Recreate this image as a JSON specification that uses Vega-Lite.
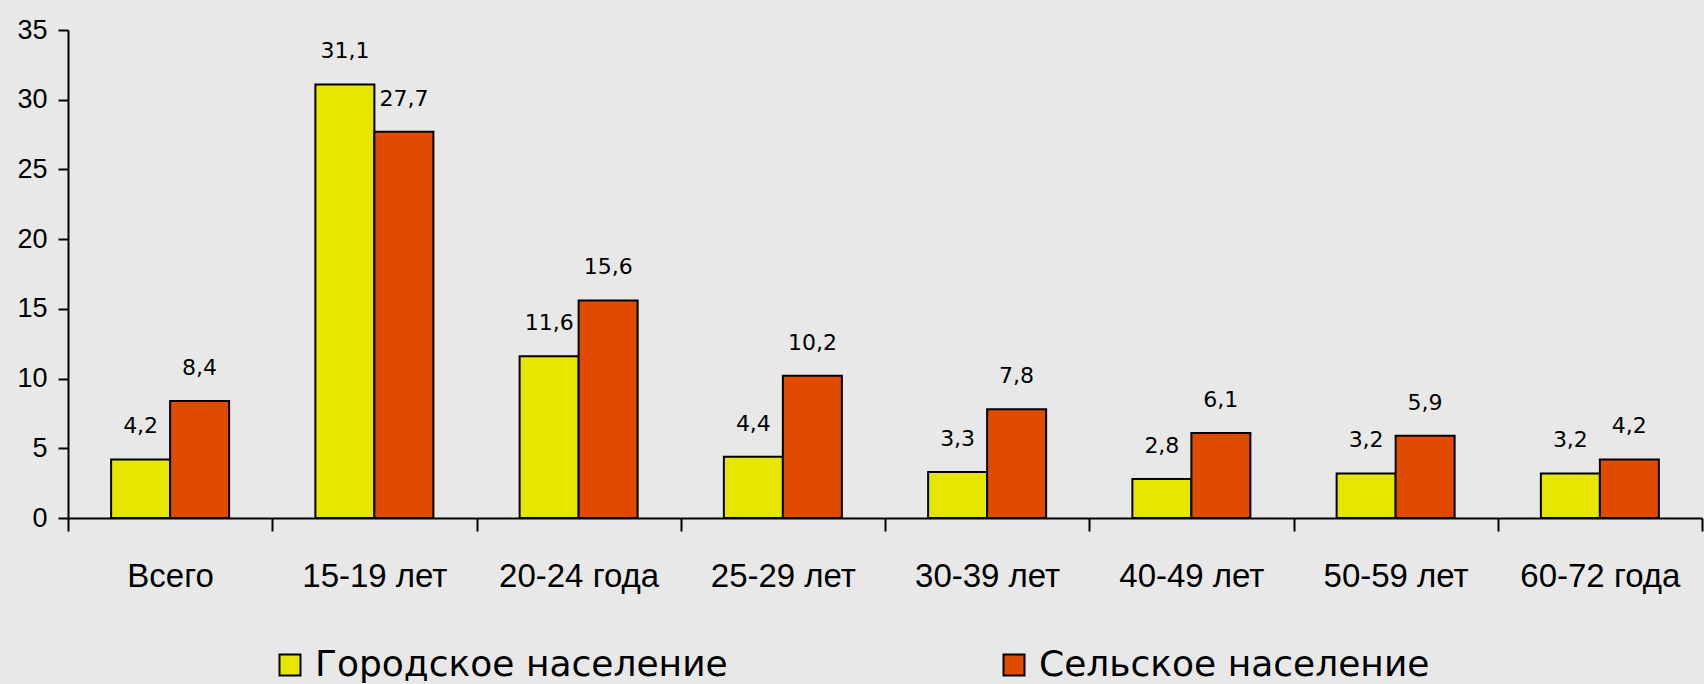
{
  "$schema": "https://vega.github.io/schema/vega-lite/v6.json",
  "autosize": "none",
  "padding": {"left": 68, "top": 30, "right": 2, "bottom": 166},
  "width": 1634,
  "height": 488,
  "background": "#E8E8E8",
  "data": {
    "values": [
      {"group": "Всего", "pop": "Городское население", "value": 4.2},
      {"group": "Всего", "pop": "Сельское население", "value": 8.4},
      {"group": "15-19 лет", "pop": "Городское население", "value": 31.1},
      {"group": "15-19 лет", "pop": "Сельское население", "value": 27.7},
      {"group": "20-24 года", "pop": "Городское население", "value": 11.6},
      {"group": "20-24 года", "pop": "Сельское население", "value": 15.6},
      {"group": "25-29 лет", "pop": "Городское население", "value": 4.4},
      {"group": "25-29 лет", "pop": "Сельское население", "value": 10.2},
      {"group": "30-39 лет", "pop": "Городское население", "value": 3.3},
      {"group": "30-39 лет", "pop": "Сельское население", "value": 7.8},
      {"group": "40-49 лет", "pop": "Городское население", "value": 2.8},
      {"group": "40-49 лет", "pop": "Сельское население", "value": 6.1},
      {"group": "50-59 лет", "pop": "Городское население", "value": 3.2},
      {"group": "50-59 лет", "pop": "Сельское население", "value": 5.9},
      {"group": "60-72 года", "pop": "Городское население", "value": 3.2},
      {"group": "60-72 года", "pop": "Сельское население", "value": 4.2}
    ]
  },
  "encoding": {
    "x": {
      "field": "group", "type": "nominal", "sort": null,
      "scale": {"paddingInner": 0, "paddingOuter": 0},
      "axis": {
        "title": null, "labelAngle": 0, "tickBand": "extent",
        "labelFont": "Liberation Sans", "labelFontSize": 33, "labelColor": "#000000",
        "tickSize": 13, "tickWidth": 2, "tickColor": "#000000",
        "domainColor": "#000000", "domainWidth": 2, "labelPadding": 29
      }
    },
    "xOffset": {
      "field": "pop", "type": "nominal", "sort": ["Городское население", "Сельское население"],
      "scale": {"paddingInner": 0, "paddingOuter": 0.731}
    },
    "y": {
      "field": "value", "type": "quantitative",
      "scale": {"domain": [0, 35], "nice": false},
      "axis": {
        "title": null, "values": [0, 5, 10, 15, 20, 25, 30, 35], "grid": false,
        "labelFont": "Liberation Sans", "labelFontSize": 27, "labelColor": "#000000",
        "tickSize": 10, "tickWidth": 2, "tickColor": "#000000",
        "domainColor": "#000000", "domainWidth": 2, "labelPadding": 11
      }
    }
  },
  "layer": [
    {
      "mark": {"type": "bar", "stroke": "#000000", "strokeWidth": 2, "opacity": 1},
      "encoding": {
        "color": {
          "field": "pop", "type": "nominal",
          "scale": {"domain": ["Городское население", "Сельское население"], "range": ["#E6E600", "#E04B00"]},
          "legend": {
            "title": null, "orient": "none", "direction": "horizontal",
            "legendX": 204, "legendY": 617,
            "symbolType": "square", "symbolSize": 441,
            "symbolStrokeColor": "#000000", "symbolStrokeWidth": 2, "symbolOpacity": 1,
            "labelFont": "DejaVu Sans", "labelFontSize": 36, "labelColor": "#000000",
            "labelOffset": 7, "labelLimit": 0, "columnPadding": 268
          }
        }
      }
    },
    {
      "mark": {"type": "text", "baseline": "middle", "align": "center", "dy": -33, "font": "DejaVu Sans", "fontSize": 22, "color": "#000000"},
      "encoding": {
        "text": {"field": "value", "type": "quantitative", "format": ".1f"}
      }
    }
  ],
  "config": {
    "view": {"stroke": null},
    "locale": {"number": {"decimal": ",", "thousands": " ", "grouping": [3], "currency": ["", ""]}}
  }
}
